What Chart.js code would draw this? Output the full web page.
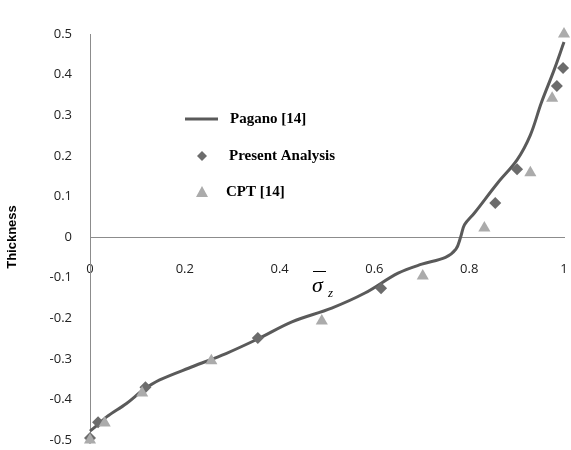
<!DOCTYPE html>
<html>
<head>
<meta charset="utf-8">
<script src="https://cdn.jsdelivr.net/npm/chart.js@4"></script>
<style>
  html, body { margin: 0; padding: 0; background: #fff; }
  #wrap { position: relative; width: 571px; height: 450px; }
</style>
</head>
<body>
<div id="wrap"><canvas id="chart" width="571" height="450"></canvas></div>
<script>
// Pagano [14] curve
const paganoX = [0, 0.017, 0.035, 0.077, 0.112, 0.147, 0.217, 0.287, 0.356, 0.426, 0.51, 0.58, 0.65, 0.7, 0.75, 0.772, 0.782, 0.79, 0.811, 0.86, 0.901, 0.929, 0.952, 0.979, 1];
const paganoY = [-0.478, -0.462, -0.443, -0.41, -0.377, -0.352, -0.319, -0.287, -0.25, -0.209, -0.175, -0.138, -0.089, -0.067, -0.05, -0.03, 0.0, 0.03, 0.059, 0.133, 0.19, 0.251, 0.33, 0.411, 0.48];

// Present Analysis
const presentX = [0, 0.017, 0.117, 0.354, 0.614, 0.855, 0.901, 0.985, 0.998];
const presentY = [-0.495, -0.456, -0.37, -0.249, -0.126, 0.084, 0.167, 0.372, 0.416];

// CPT [14]
const cptX = [0, 0.031, 0.11, 0.256, 0.489, 0.702, 0.832, 0.929, 0.975, 1];
const cptY = [-0.5, -0.458, -0.384, -0.305, -0.207, -0.096, 0.022, 0.158, 0.342, 0.5];

const xTicks = [0, 0.2, 0.4, 0.6, 0.8, 1];
const yTicks = [-0.5, -0.4, -0.3, -0.2, -0.1, 0, 0.1, 0.2, 0.3, 0.4, 0.5];

const toPoints = (xs, ys) => xs.map((x, i) => ({ x: x, y: ys[i] }));
const fmt = v => (Math.abs(v) < 1e-9 ? '0' : (Math.abs(v - Math.round(v)) < 1e-9 ? String(Math.round(v)) : v.toFixed(1)));

// legend drawn inside the plot, plus the sigma axis label
const overlay = {
  id: 'overlay',
  afterDraw(chart) {
    const ctx = chart.ctx;
    const ds = chart.data.datasets;
    ctx.save();
    // Pagano line sample
    ctx.strokeStyle = ds[0].borderColor;
    ctx.lineWidth = 3;
    ctx.beginPath();
    ctx.moveTo(185, 119);
    ctx.lineTo(218, 119);
    ctx.stroke();
    // diamond
    ctx.fillStyle = ds[1].backgroundColor;
    ctx.beginPath();
    ctx.moveTo(202, 151); ctx.lineTo(207, 156); ctx.lineTo(202, 161); ctx.lineTo(197, 156);
    ctx.closePath();
    ctx.fill();
    // triangle
    ctx.fillStyle = ds[2].backgroundColor;
    ctx.beginPath();
    ctx.moveTo(202, 186); ctx.lineTo(208, 197); ctx.lineTo(196, 197);
    ctx.closePath();
    ctx.fill();

    ctx.fillStyle = '#000';
    ctx.font = 'bold 15px "Liberation Serif"';
    ctx.textBaseline = 'middle';
    ctx.textAlign = 'left';
    ctx.fillText(ds[0].label, 230, 119);
    ctx.fillText(ds[1].label, 229, 156);
    ctx.fillText(ds[2].label, 226, 192);

    // sigma-bar z
    ctx.font = 'italic 22px "Liberation Serif"';
    ctx.textBaseline = 'alphabetic';
    ctx.fillText('σ', 312, 292);
    ctx.strokeStyle = '#000';
    ctx.lineWidth = 1;
    ctx.beginPath();
    ctx.moveTo(313, 271.5);
    ctx.lineTo(326, 271.5);
    ctx.stroke();
    ctx.font = 'italic 13px "Liberation Serif"';
    ctx.fillText('z', 328, 297);
    ctx.restore();
  }
};

new Chart(document.getElementById('chart'), {
  type: 'scatter',
  data: {
    datasets: [
      {
        label: 'Pagano [14]',
        data: toPoints(paganoX, paganoY),
        showLine: true,
        borderColor: '#5a5a5a',
        backgroundColor: '#5a5a5a',
        borderWidth: 3,
        pointRadius: 0,
        tension: 0.35,
        clip: false,
        order: 3
      },
      {
        label: 'Present Analysis',
        data: toPoints(presentX, presentY),
        pointStyle: 'rectRot',
        pointRadius: 6,
        backgroundColor: '#6c6c6c',
        borderColor: '#6c6c6c',
        borderWidth: 0,
        clip: false,
        order: 2
      },
      {
        label: 'CPT [14]',
        data: toPoints(cptX, cptY),
        pointStyle: 'triangle',
        pointRadius: 7,
        backgroundColor: '#ababab',
        borderColor: '#ababab',
        borderWidth: 0,
        clip: false,
        order: 1
      }
    ]
  },
  options: {
    responsive: false,
    animation: false,
    layout: { padding: { top: 34, right: 4, bottom: 10, left: 0 } },
    plugins: {
      legend: { display: false },
      tooltip: { enabled: false }
    },
    scales: {
      x: {
        type: 'linear',
        min: 0,
        max: 1,
        position: { y: 0 },
        afterFit(scale) { scale.height = 0; scale.paddingLeft = 0; scale.paddingRight = 0; },
        afterBuildTicks(scale) { scale.ticks = xTicks.map(v => ({ value: v })); },
        grid: { display: false, drawTicks: false },
        border: { display: true, color: '#8c8c8c', width: 1 },
        ticks: {
          padding: 24,
          color: '#222',
          font: { family: '"Open Sans"', size: 13 },
          callback: v => fmt(v)
        }
      },
      y: {
        type: 'linear',
        min: -0.5,
        max: 0.5,
        afterFit(scale) { scale.width = 90; scale.paddingTop = 0; scale.paddingBottom = 0; },
        afterBuildTicks(scale) { scale.ticks = yTicks.map(v => ({ value: v })); },
        grid: { display: false, drawTicks: false },
        border: { display: true, color: '#8c8c8c', width: 1 },
        title: {
          display: true,
          text: 'Thickness',
          color: '#000',
          font: { family: '"Liberation Sans"', size: 13, weight: 'bold' },
          padding: { top: 5, bottom: 0 }
        },
        ticks: {
          padding: 18,
          color: '#222',
          font: { family: '"Open Sans"', size: 13 },
          callback: v => fmt(v)
        }
      }
    }
  },
  plugins: [overlay]
});
</script>
</body>
</html>
